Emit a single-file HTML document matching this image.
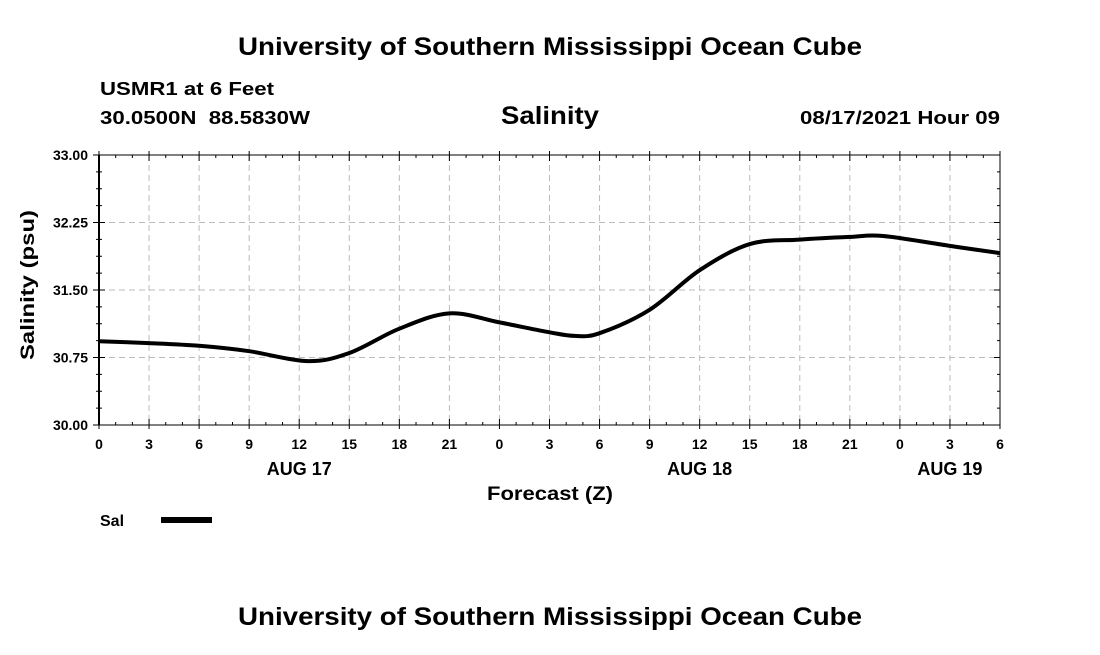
<!DOCTYPE html>
<html><head><meta charset="utf-8"><style>
body{margin:0;background:#fff;width:1100px;height:650px;overflow:hidden;font-family:"Liberation Sans",Arial,sans-serif}
</style></head><body>
<svg width="1100" height="650" xmlns="http://www.w3.org/2000/svg" font-family="Liberation Sans, Arial, sans-serif" font-weight="bold">
<text x="238" y="55" font-size="25" textLength="624" lengthAdjust="spacingAndGlyphs">University of Southern Mississippi Ocean Cube</text>
<text x="100" y="95" font-size="18" textLength="174" lengthAdjust="spacingAndGlyphs">USMR1 at 6 Feet</text>
<text x="100" y="124" font-size="18" textLength="210" lengthAdjust="spacingAndGlyphs" xml:space="preserve">30.0500N  88.5830W</text>
<text x="501" y="124" font-size="25" textLength="98" lengthAdjust="spacingAndGlyphs">Salinity</text>
<text x="800" y="124" font-size="18" textLength="200" lengthAdjust="spacingAndGlyphs">08/17/2021 Hour 09</text>
<g id="grid"></g>
<rect x="99" y="155" width="901" height="270" fill="none" stroke="#000" stroke-width="1"/>
<line x1="99" y1="155" x2="99" y2="425" stroke="#000" stroke-width="2"/>
<g id="axes" font-size="14"></g>
<path id="line" fill="none" stroke="#000" stroke-width="4"/>
<text x="487" y="500" font-size="19" textLength="126" lengthAdjust="spacingAndGlyphs">Forecast (Z)</text>
<text transform="translate(34,360) rotate(-90)" font-size="19" textLength="150" lengthAdjust="spacingAndGlyphs">Salinity (psu)</text>
<text x="100" y="526" font-size="16">Sal</text>
<line x1="161" y1="520" x2="212" y2="520" stroke="#000" stroke-width="6"/>
<text x="238" y="625" font-size="25" textLength="624" lengthAdjust="spacingAndGlyphs">University of Southern Mississippi Ocean Cube</text>
</svg>
<script>
const hours=[0,3,6,9,12.5,15,18,21,24,27,28.5,30,33,36,39,42,45,47,51,54];
const salinity=[30.93,30.91,30.88,30.82,30.71,30.80,31.07,31.24,31.14,31.03,30.99,31.02,31.28,31.72,32.01,32.06,32.09,32.10,31.99,31.91];
const yTicks=[30.00,30.75,31.50,32.25,33.00];
const xTickLabels=["0","3","6","9","12","15","18","21","0","3","6","9","12","15","18","21","0","3","6"];
const dayLabels=["AUG 17","AUG 18","AUG 19"];
const dayHours=[12,36,51];
const X0=99,X1=1000,Y0=425,Y1=155;
const sx=h=>X0+(h/54)*(X1-X0);
const sy=v=>Y0-(v-30)/3*(Y0-Y1);
const NS="http://www.w3.org/2000/svg";
const grid=document.getElementById('grid'),axes=document.getElementById('axes');
function mk(tag,attrs,parent,txt){const e=document.createElementNS(NS,tag);for(const k in attrs)e.setAttribute(k,attrs[k]);if(txt!==undefined)e.textContent=txt;parent.appendChild(e);return e;}
for(let h=1;h<54;h++){if(h%3===0)continue;const x=sx(h);
 mk('line',{x1:x,x2:x,y1:Y0,y2:Y0-3,stroke:'#000'},axes);
 mk('line',{x1:x,x2:x,y1:Y1,y2:Y1+3,stroke:'#000'},axes);}
for(let v=30;v<33;v+=0.1875){const y=sy(v);
 mk('line',{x1:X0-3,x2:X0+3,y1:y,y2:y,stroke:'#000'},axes);
 mk('line',{x1:X1-3,x2:X1,y1:y,y2:y,stroke:'#000'},axes);}
xTickLabels.forEach((l,i)=>{const x=sx(i*3);
 if(i>0&&i<xTickLabels.length-1){const g=mk('line',{x1:x,x2:x,y1:Y1,y2:Y0,stroke:'#bbb','stroke-dasharray':'6,4'},grid);
 
 }
 mk('line',{x1:x,x2:x,y1:Y0+4,y2:Y0-6,stroke:'#000'},axes);
 mk('line',{x1:x,x2:x,y1:Y1-4,y2:Y1+6,stroke:'#000'},axes);
 const t=mk('text',{x:x,y:449,'text-anchor':'middle'},axes,l);
 
 
});
dayLabels.forEach((l,i)=>{const t=mk('text',{x:sx(dayHours[i]),y:475,'text-anchor':'middle','font-size':'18'},axes,l);
 
 });
yTicks.forEach(v=>{const y=sy(v);
 if(v>30&&v<33){const g=mk('line',{x1:X0,x2:X1,y1:y,y2:y,stroke:'#bbb','stroke-dasharray':'6,4'},grid);
 
 }
 mk('line',{x1:X0-6,x2:X0+6,y1:y,y2:y,stroke:'#000'},axes);
 mk('line',{x1:X1,x2:X1-6,y1:y,y2:y,stroke:'#000'},axes);
 const t=mk('text',{x:88,y:y+5,'text-anchor':'end'},axes,v.toFixed(2));
 
 
});
const pts=hours.map((h,i)=>[sx(h),sy(salinity[i])]);
let d=`M${pts[0][0]},${pts[0][1]}`;
for(let i=0;i<pts.length-1;i++){const p0=pts[i-1]||pts[i],p1=pts[i],p2=pts[i+1],p3=pts[i+2]||p2;
 d+=` C${p1[0]+(p2[0]-p0[0])/6},${p1[1]+(p2[1]-p0[1])/6} ${p2[0]-(p3[0]-p1[0])/6},${p2[1]-(p3[1]-p1[1])/6} ${p2[0]},${p2[1]}`;}
document.getElementById('line').setAttribute('d',d);
</script>
</body></html>
